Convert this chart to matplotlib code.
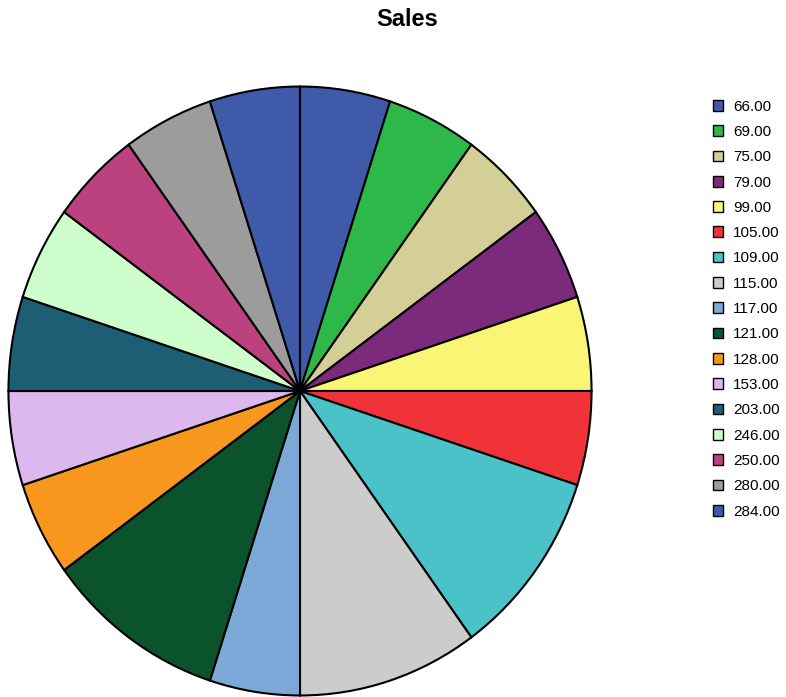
import matplotlib.pyplot as plt
from matplotlib.patches import Patch

plt.rcParams['font.family'] = ['Liberation Sans', 'DejaVu Sans']

labels = ['66.00', '69.00', '75.00', '79.00', '99.00', '105.00', '109.00', '115.00',
          '117.00', '121.00', '128.00', '153.00', '203.00', '246.00', '250.00',
          '280.00', '284.00']
counts = [1, 1, 1, 1, 1, 1, 2, 2, 1, 2, 1, 1, 1, 1, 1, 1, 1]
colors = ['#3F5AA9', '#2EB84A', '#D4CF96', '#7B2A7C', '#F9F675', '#EF3339', '#4AC3C8',
          '#CCCCCC', '#7BA8D6', '#0A532C', '#F7971E', '#DCB8EE', '#1D5E75', '#CDFECC',
          '#BB417F', '#9C9C9C', '#3F5AA9']

fig = plt.figure(figsize=(7.86, 6.97), dpi=100)
ax = fig.add_axes([7 / 786, 0 / 697, 586 / 786, 612 / 697])
ax.pie(counts, colors=colors, startangle=90, counterclock=False,
       wedgeprops={'edgecolor': 'black', 'linewidth': 1.5})
ax.set_aspect('auto')
ax.set_xlim(-1.005, 1.005)
ax.set_ylim(-1.005, 1.005)

fig.text(407 / 786, 1 - 20 / 697, 'Sales', ha='center', va='center',
         fontsize=17, fontweight='bold')

handles = [Patch(facecolor=c, edgecolor='black', linewidth=1) for c in colors]
fig.legend(handles, labels, loc='upper left', bbox_to_anchor=(705 / 786, 1 - 92 / 697),
           frameon=False, fontsize=11, handlelength=0.7, handleheight=0.7,
           handletextpad=0.65, labelspacing=0.74, borderpad=0)

fig.savefig('out.png', dpi=100)
